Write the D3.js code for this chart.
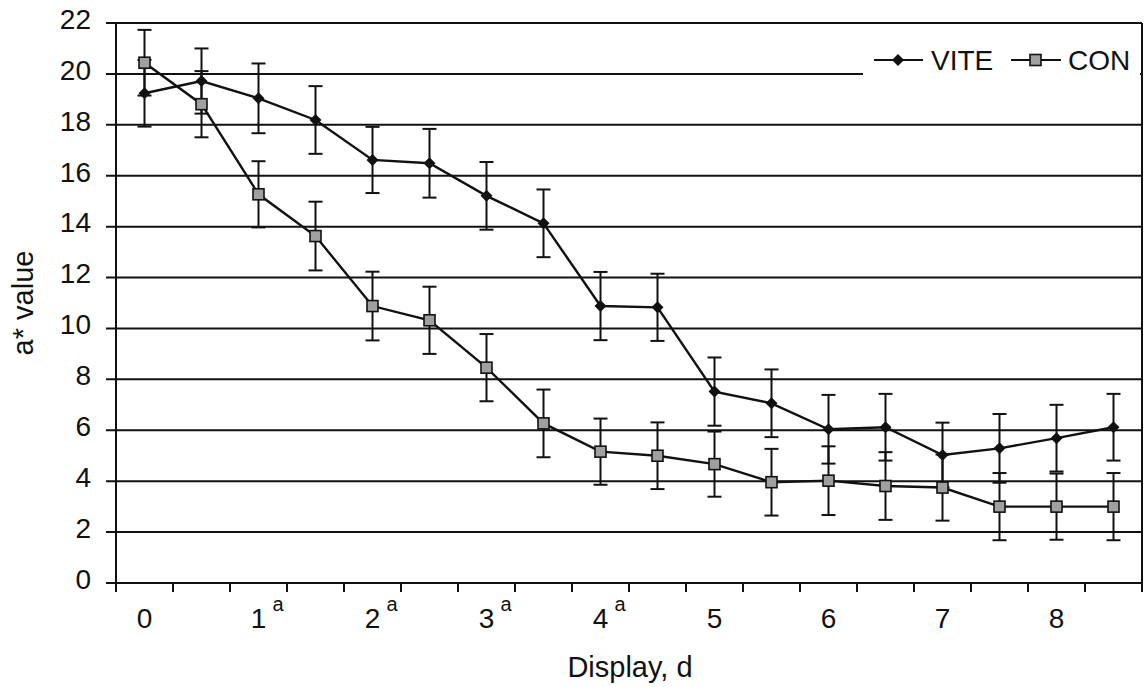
<!DOCTYPE html>
<html>
<head>
<meta charset="utf-8">
<script src="https://cdn.jsdelivr.net/npm/d3@7"></script>
<style>
  body { margin: 0; background: #fff; }
  text { font-family: "Liberation Sans", Arial, sans-serif; fill: #111; }
</style>
</head>
<body>
<div id="chart"></div>
<script>
const width = 1145;
const height = 687;

// display day, half-day steps (18 points)
const days = [0, 0.5, 1, 1.5, 2, 2.5, 3, 3.5, 4, 4.5, 5, 5.5, 6, 6.5, 7, 7.5, 8, 8.5];
const tickLabels = ["0", "1", "2", "3", "4", "5", "6", "7", "8"];
const tickSup = ["", "a", "a", "a", "a", "", "", "", ""];

const vite = [19.24, 19.72, 19.04, 18.19, 16.62, 16.49, 15.21, 14.13, 10.88, 10.83, 7.52, 7.06, 6.04, 6.12, 5.03, 5.29, 5.69, 6.12];
const viteErr = [1.31, 1.28, 1.37, 1.33, 1.3, 1.35, 1.33, 1.33, 1.34, 1.32, 1.34, 1.33, 1.35, 1.31, 1.27, 1.35, 1.31, 1.31];

const con = [20.44, 18.81, 15.27, 13.63, 10.88, 10.32, 8.46, 6.27, 5.16, 5.0, 4.67, 3.96, 4.02, 3.81, 3.75, 3.0, 3.0, 3.0];
const conErr = [1.29, 1.3, 1.3, 1.35, 1.35, 1.32, 1.32, 1.33, 1.3, 1.31, 1.28, 1.31, 1.35, 1.33, 1.3, 1.32, 1.3, 1.32];

const yTicks = [0, 2, 4, 6, 8, 10, 12, 14, 16, 18, 20, 22];

const plotLeft = 116, plotRight = 1142, plotTop = 23, plotBottom = 583;
const fontSize = 28;
const squareFill = "#a0a0a0";

const svg = d3.select("#chart")
    .append("svg")
    .attr("width", width)
    .attr("height", height);

const x = d3.scaleBand()
    .domain(days)
    .range([plotLeft, plotRight])
    .padding(0);

const y = d3.scaleLinear()
    .domain([0, 22])
    .range([plotBottom, plotTop]);

const cx = (i) => x(days[i]) + x.bandwidth() / 2;

// gridlines + y ticks
svg.append("g")
    .selectAll("line")
    .data(yTicks)
    .join("line")
    .attr("x1", plotLeft - 10)
    .attr("x2", plotRight)
    .attr("y1", (d) => y(d))
    .attr("y2", (d) => y(d))
    .attr("stroke", "#111")
    .attr("stroke-width", 2);

svg.append("g")
    .selectAll("text")
    .data(yTicks)
    .join("text")
    .attr("x", 91)
    .attr("y", (d) => y(d) - 4)
    .attr("dy", "0.35em")
    .attr("text-anchor", "end")
    .style("font-size", fontSize + "px")
    .text((d) => d);

// y axis line, right border
svg.append("line")
    .attr("x1", plotLeft).attr("x2", plotLeft)
    .attr("y1", plotTop).attr("y2", plotBottom + 9)
    .attr("stroke", "#111").attr("stroke-width", 2);
svg.append("line")
    .attr("x1", plotRight).attr("x2", plotRight)
    .attr("y1", plotTop).attr("y2", plotBottom + 9)
    .attr("stroke", "#111").attr("stroke-width", 2);

// x tick marks at band edges
svg.append("g")
    .selectAll("line")
    .data(days.slice(1))
    .join("line")
    .attr("x1", (d) => x(d))
    .attr("x2", (d) => x(d))
    .attr("y1", plotBottom)
    .attr("y2", plotBottom + 9)
    .attr("stroke", "#111")
    .attr("stroke-width", 2);

// x labels on whole days
svg.append("g")
    .selectAll("text")
    .data(tickLabels)
    .join("text")
    .attr("x", (d, i) => cx(i * 2))
    .attr("y", 628)
    .attr("text-anchor", "middle")
    .style("font-size", fontSize + "px")
    .text((d) => d);

svg.append("g")
    .selectAll("text")
    .data(tickLabels)
    .join("text")
    .attr("x", (d, i) => cx(i * 2) + 14)
    .attr("y", 611)
    .style("font-size", "20px")
    .text((d, i) => tickSup[i]);

// axis titles
svg.append("text")
    .attr("x", 630)
    .attr("y", 677)
    .attr("text-anchor", "middle")
    .style("font-size", "29px")
    .text("Display, d");

svg.append("text")
    .attr("transform", `translate(33,${(plotTop + plotBottom) / 2}) rotate(-90)`)
    .attr("text-anchor", "middle")
    .style("font-size", "29px")
    .text("a* value");

// series
const line = d3.line()
    .x((d, i) => cx(i))
    .y((d) => y(d));

function drawErrors(values, errs) {
    const g = svg.append("g").attr("stroke", "#111").attr("stroke-width", 2);
    g.selectAll("line.v")
        .data(values)
        .join("line")
        .attr("class", "v")
        .attr("x1", (d, i) => cx(i))
        .attr("x2", (d, i) => cx(i))
        .attr("y1", (d, i) => y(d + errs[i]))
        .attr("y2", (d, i) => y(d - errs[i]));
    ["hi", "lo"].forEach((k) => {
        const s = k === "hi" ? 1 : -1;
        g.selectAll("line." + k)
            .data(values)
            .join("line")
            .attr("class", k)
            .attr("x1", (d, i) => cx(i) - 7)
            .attr("x2", (d, i) => cx(i) + 7)
            .attr("y1", (d, i) => y(d + s * errs[i]))
            .attr("y2", (d, i) => y(d + s * errs[i]));
    });
}

const diamond = "M0,-6L6,0L0,6L-6,0Z";

drawErrors(vite, viteErr);
drawErrors(con, conErr);

svg.append("path")
    .datum(vite)
    .attr("d", line)
    .attr("fill", "none")
    .attr("stroke", "#111")
    .attr("stroke-width", 2.4);

svg.append("g")
    .selectAll("path")
    .data(vite)
    .join("path")
    .attr("d", diamond)
    .attr("transform", (d, i) => `translate(${cx(i)},${y(d)})`)
    .attr("fill", "#111");

svg.append("path")
    .datum(con)
    .attr("d", line)
    .attr("fill", "none")
    .attr("stroke", "#111")
    .attr("stroke-width", 2.4);

svg.append("g")
    .selectAll("rect")
    .data(con)
    .join("rect")
    .attr("x", (d, i) => cx(i) - 5.5)
    .attr("y", (d) => y(d) - 5.5)
    .attr("width", 11)
    .attr("height", 11)
    .attr("fill", squareFill)
    .attr("stroke", "#111")
    .attr("stroke-width", 1.6);

// legend
const legend = svg.append("g");
legend.append("rect")
    .attr("x", 863).attr("y", 36)
    .attr("width", 277).attr("height", 48)
    .attr("fill", "#fff");

legend.append("line")
    .attr("x1", 874).attr("x2", 923).attr("y1", 60).attr("y2", 60)
    .attr("stroke", "#111").attr("stroke-width", 2);
legend.append("path")
    .attr("d", diamond)
    .attr("transform", "translate(898,60)")
    .attr("fill", "#111");
legend.append("text")
    .attr("x", 931).attr("y", 70)
    .style("font-size", fontSize + "px")
    .text("VITE");

legend.append("line")
    .attr("x1", 1011).attr("x2", 1061).attr("y1", 60).attr("y2", 60)
    .attr("stroke", "#111").attr("stroke-width", 2);
legend.append("rect")
    .attr("x", 1030).attr("y", 54.5)
    .attr("width", 11).attr("height", 11)
    .attr("fill", squareFill)
    .attr("stroke", "#111").attr("stroke-width", 1.6);
legend.append("text")
    .attr("x", 1068).attr("y", 70)
    .style("font-size", fontSize + "px")
    .text("CON");
</script>
</body>
</html>
